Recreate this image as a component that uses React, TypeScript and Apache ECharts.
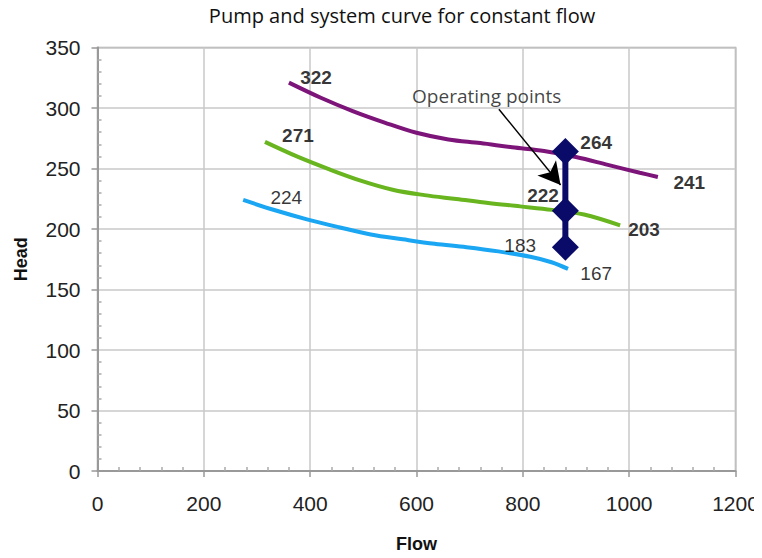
import React, { useEffect, useRef } from "react";
import * as echarts from "echarts";

// ---- data ----
const titleText = "Pump and system curve for constant flow";
const xName = "Flow";
const yName = "Head";

const purpleFlow = [360, 420, 480, 540, 600, 660, 720, 780, 840, 900, 960, 1020, 1054];
const purpleHead = [321, 308.5, 297.5, 288, 279.5, 274, 271, 267.5, 264.5, 259.5, 253, 246.5, 243];

const greenFlow = [315, 375, 435, 495, 555, 615, 675, 735, 795, 855, 915, 983];
const greenHead = [272, 260, 249.5, 240, 232.5, 228, 224.8, 221.5, 218.7, 215.8, 212, 203];

const blueFlow = [274, 334, 394, 454, 514, 574, 634, 694, 754, 814, 854, 885];
const blueHead = [224, 215.5, 208, 201.5, 195.5, 191.5, 187.8, 185, 181.5, 177, 172.5, 167];

const opFlow = [880, 880, 880];
const opHead = [264, 215, 185];

// annotation labels: text, flow, head
const boldLabelText = ["322", "271", "264", "241", "222", "203"];
const boldLabelFlow = [411, 377, 938, 1113, 838, 1028];
const boldLabelHead = [324.8, 276.9, 271.6, 238.3, 227.3, 199.4];

const plainLabelText = ["224", "183", "167"];
const plainLabelFlow = [355, 795, 938];
const plainLabelHead = [226.4, 186.1, 163.4];

const noteText = "Operating points";
const noteFlow = 732;
const noteHead = 309.6;
const arrowFrom = [755, 299];
const arrowTo = [871, 236.4];

const zip = (a: number[], b: number[]) => a.map((v, i) => [v, b[i]]);

export default function App() {
  const ref = useRef<HTMLDivElement>(null);
  useEffect(() => {
    if (!ref.current) return;
    const chart = echarts.init(ref.current, undefined, { renderer: "svg" });
    const tickFont = "'Liberation Sans', Arial, sans-serif";
    const labelStyle = (bold: boolean) => ({
      show: true,
      position: "inside" as const,
      color: "#000",
      textBorderWidth: 0,
      fontFamily: tickFont,
      fontSize: 19,
      fontWeight: bold ? ("bold" as const) : ("normal" as const),
    });
    const curve = (name: string, data: number[][], color: string) => ({
      name,
      type: "line",
      data,
      smooth: 0.35,
      showSymbol: false,
      symbol: "none",
      lineStyle: { color, width: 4 },
      z: 2,
    });
    chart.setOption({
      animation: false,
      backgroundColor: "#fff",
      graphic: [
        {
          type: "text",
          x: 402,
          y: 15,
          style: {
            text: titleText,
            font: "20px 'Open Sans', sans-serif",
            fill: "#111",
            textAlign: "center",
            textVerticalAlign: "middle",
          },
        },
      ],
      grid: {
        left: 97.5,
        right: 26.5,
        top: 47.5,
        bottom: 87,
        show: true,
        borderColor: "#a8a8a8",
        borderWidth: 1.5,
        outerBoundsMode: "none",
        containLabel: false,
      },
      xAxis: {
        type: "value",
        min: 0,
        max: 1200,
        interval: 200,
        name: xName,
        nameLocation: "middle",
        nameGap: 64,
        nameTextStyle: { fontFamily: tickFont, fontSize: 18, fontWeight: "bold", color: "#111" },
        axisLine: { show: true, lineStyle: { color: "#999", width: 2 } },
        axisTick: { show: true, length: 6, lineStyle: { color: "#999", width: 1.5 } },
        minorTick: { show: true, splitNumber: 5, length: -4, lineStyle: { color: "#aaa", width: 1.5 } },
        splitLine: { show: true, lineStyle: { color: "#c8c8c8", width: 1.5 } },
        axisLabel: {
          fontFamily: tickFont,
          fontSize: 21,
          color: "#222",
          margin: 22,
          formatter: (v: number) => String(v),
        },
      },
      yAxis: {
        type: "value",
        min: 0,
        max: 350,
        interval: 50,
        name: yName,
        nameLocation: "middle",
        nameGap: 68,
        nameRotate: 90,
        nameTextStyle: { fontFamily: tickFont, fontSize: 18, fontWeight: "bold", color: "#111" },
        axisLine: { show: true, lineStyle: { color: "#999", width: 2 } },
        axisTick: { show: true, length: 6, lineStyle: { color: "#999", width: 1.5 } },
        minorTick: { show: true, splitNumber: 5, length: -4, lineStyle: { color: "#aaa", width: 1.5 } },
        splitLine: { show: true, lineStyle: { color: "#c8c8c8", width: 1.5 } },
        axisLabel: {
          fontFamily: tickFont,
          fontSize: 21,
          color: "#222",
          margin: 17,
          formatter: (v: number) => String(v),
        },
      },
      series: [
        curve("purple", zip(purpleFlow, purpleHead), "#7d1479"),
        curve("green", zip(greenFlow, greenHead), "#68b51f"),
        curve("blue", zip(blueFlow, blueHead), "#1aa6f2"),
        {
          name: "operating",
          type: "line",
          data: zip(opFlow, opHead),
          symbol: "diamond",
          symbolSize: 27,
          showSymbol: true,
          itemStyle: { color: "#0a0a68" },
          lineStyle: { color: "#0a0a68", width: 6 },
          z: 4,
        },
        {
          name: "boldLabels",
          type: "scatter",
          symbolSize: 0,
          data: boldLabelText.map((t, i) => ({
            value: [boldLabelFlow[i], boldLabelHead[i]],
            label: { ...labelStyle(true), formatter: t },
          })),
          z: 6,
          silent: true,
        },
        {
          name: "plainLabels",
          type: "scatter",
          symbolSize: 0,
          data: plainLabelText.map((t, i) => ({
            value: [plainLabelFlow[i], plainLabelHead[i]],
            label: { ...labelStyle(false), formatter: t },
          })),
          z: 6,
          silent: true,
        },
        {
          name: "note",
          type: "scatter",
          symbolSize: 0,
          data: [
            {
              value: [noteFlow, noteHead],
              label: {
                show: true,
                position: "inside",
                formatter: noteText,
                fontFamily: "'Open Sans', sans-serif",
                fontSize: 19,
                color: "#111",
                textBorderWidth: 0,
              },
            },
          ],
          markLine: {
            silent: true,
            animation: false,
            symbol: ["none", "arrow"],
            symbolSize: [18, 22],
            label: { show: false },
            lineStyle: { color: "#000", width: 1.5, type: "solid" },
            data: [[{ coord: arrowFrom }, { coord: arrowTo }]],
          },
          z: 7,
          silent: true,
        },
      ],
    });
    return () => chart.dispose();
  }, []);
  return <div ref={ref} style={{ width: 762, height: 558, margin: -8 }} />;
}
